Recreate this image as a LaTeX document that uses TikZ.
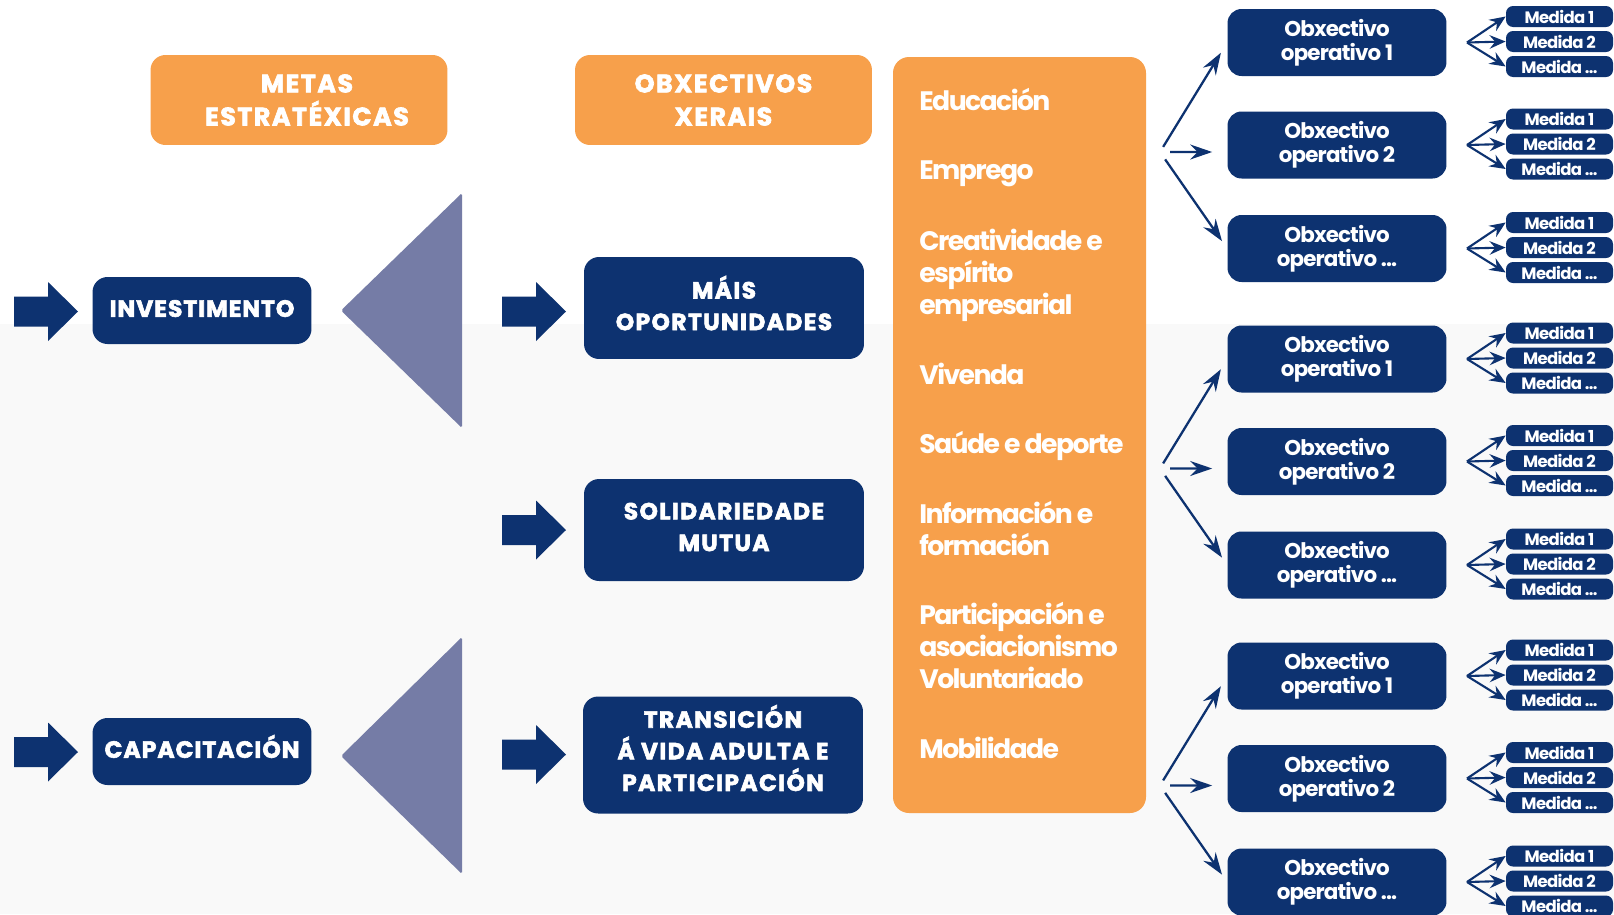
\documentclass[tikz,border=0pt]{standalone}
\usepackage{fontspec}
\setmainfont{Poppins}
\newfontfamily\capsfont{Poppins}[LetterSpace=6, BoldFeatures={FakeBold=2.5}]
\newfontfamily\stratfont{Poppins}[LetterSpace=4, BoldFeatures={FakeBold=2.5}]
\newfontfamily\tightfont{Poppins}[LetterSpace=-4]
\newfontfamily\itemfont{Poppins}[LetterSpace=-6]
\usetikzlibrary{arrows.meta,positioning,calc}
\definecolor{colNavy}{RGB}{13,50,112}
\definecolor{colOrange}{RGB}{247,160,75}
\definecolor{colTri}{RGB}{117,124,166}
\definecolor{colBack}{RGB}{249,249,249}
\newcommand{\tdots}{...}
% block arrow with its tip at (#1,#2)
\newcommand{\blockarrow}[2]{%
  \fill[colNavy] (#1,#2) -- ++(-30,-29.5) -- ++(0,14.5) -- ++(-34,0) -- ++(0,30)
    -- ++(34,0) -- ++(0,14.5) -- cycle;}
\tikzset{
  headbox/.style={fill=colOrange, rounded corners=0.3cm, minimum width=5.94cm,
    minimum height=1.8cm, align=center, text=white,
    font=\capsfont\bfseries\fontsize{14.4}{18.8}\selectfont},
  stratbox/.style={fill=colNavy, rounded corners=0.3cm, minimum width=4.38cm,
    minimum height=1.34cm, text=white, text height=0.72em, text depth=0pt,
    font=\stratfont\bfseries\fontsize{13.4}{16}\selectfont},
  goalbox/.style={fill=colNavy, rounded corners=0.3cm, minimum width=5.6cm,
    minimum height=2.04cm},
  goaltext/.style={align=center, text=white,
    font=\capsfont\bfseries\fontsize{13.3}{18}\selectfont},
  opbox/.style={fill=colNavy, rounded corners=0.28cm, minimum width=4.38cm,
    minimum height=1.34cm, align=center, text=white,
    font=\tightfont\bfseries\fontsize{12.2}{13.7}\selectfont},
  medbox/.style={fill=colNavy, rounded corners=0.14cm, minimum width=2.14cm,
    minimum height=0.42cm, inner sep=0pt, text=white,
    font=\tightfont\bfseries\fontsize{9.4}{10}\selectfont},
  item/.style={anchor=west, align=left, text=white, inner sep=0pt,
    font=\itemfont\bfseries\fontsize{15.2}{18.2}\selectfont},
  fan/.style={colNavy, line width=1.3pt,
    -{Stealth[length=0.44cm, width=0.3cm, inset=0.15cm]}},
  twig/.style={colNavy, line width=1.2pt,
    -{Stealth[length=0.32cm, width=0.27cm, inset=0.11cm]}},
}
\begin{document}
\begin{tikzpicture}[x=0.02cm, y=-0.02cm]
  \useasboundingbox (0,0) rectangle (1614,914);
  \clip (0,0) rectangle (1614,914);
  % background
  \fill[white] (0,0) rectangle (1614,324);
  \fill[colBack] (0,324) rectangle (1614,914);
  % headers
  \node[headbox] (metas) at (299,100)
    {\hspace*{0.32cm}METAS\\\hspace*{0.32cm}ESTRATÉXICAS};
  \node[headbox] (xerais) at (723.5,100) {OBXECTIVOS\\XERAIS};
  % strategic goals
  \blockarrow{78}{311.5}
  \node[stratbox] (invest) at (202,310.5) {INVESTIMENTO};
  \blockarrow{78}{752}
  \node[stratbox] (capac) at (202,751.5) {CAPACITACIÓN};
  % triangles
  \fill[colTri, rounded corners=1pt] (462,193) -- (462,428) -- (341,310.5) -- cycle;
  \fill[colTri, rounded corners=1pt] (462,637) -- (462,874) -- (341,756) -- cycle;
  % general objectives
  \blockarrow{566}{311.5}
  \node[goalbox] (mais) at (724,308) {};
  \node[goaltext] (maistxt) at (724,303) {MÁIS\\OPORTUNIDADES};
  \blockarrow{566}{530}
  \node[goalbox] (solid) at (724,530) {};
  \node[goaltext] (solidtxt) at (724,527) {SOLIDARIEDADE\\MUTUA};
  \blockarrow{566}{754.5}
  \node[goalbox, minimum height=2.34cm] (trans) at (723,755) {};
  \node[goaltext] (transtxt) at (723,748)
    {TRANSICIÓN\\Á VIDA ADULTA E\\PARTICIPACIÓN};
  % areas column
  \fill[colOrange, rounded corners=0.32cm] (893,57) rectangle (1146,813);
  \foreach \yy/\txt in {104/Educación, 173/Emprego,
      276/{Creatividade e\\espírito\\empresarial}, 378/Vivenda,
      447/Saúde e deporte, 533/{Información e\\formación},
      650/{Participación e\\asociacionismo\\Voluntariado}, 752/Mobilidade}
    \node[item] (area\yy) at (919,\yy) {\strut\txt\strut};
  % operative objectives and measures
  \foreach \g/\c in {1/42.5, 2/359, 3/676} {
    \foreach \k/\dy/\lab in {A/0/1, B/102.5/2, C/206/\tdots} {
      \node[opbox] (op\k\g) at (1337,\c+\dy) {Obxectivo\\operativo \lab};
      \coordinate (tw\k\g) at (1467,\c+\dy);
      \foreach \m/\my/\mlab in {1/-26/1, 2/-1/2, 3/24/\tdots} {
        \node[medbox] (md\k\g\m) at (1559.5,\c+\dy+\my) {Medida \mlab};
        \draw[twig] (tw\k\g) -- (md\k\g\m.west);
      }
    }
    \coordinate (fan\g) at (1160,\c+109.5);
    \draw[fan, shorten <=0.12cm, shorten >=0.24cm] (fan\g) -- (opA\g.west);
    \draw[fan, shorten <=0.2cm, shorten >=0.3cm] (fan\g) -- ([yshift=-0.14cm]opB\g.west);
    \draw[fan, shorten <=0.18cm, shorten >=0.18cm] (fan\g) -- (opC\g.west);
  }
\end{tikzpicture}
\end{document}
